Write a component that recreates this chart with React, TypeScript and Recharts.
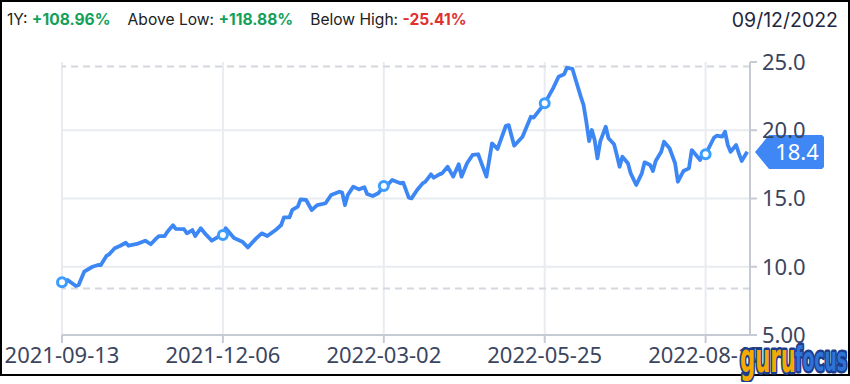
import { LineChart, Line, XAxis, YAxis, CartesianGrid, ReferenceLine } from "recharts";

// trading-day index since 2021-09-13 and closing price
const days = [
  0, 2, 5, 6, 8, 11, 13, 14, 16, 17, 19, 21, 23, 24, 27, 30, 32, 34, 35, 37, 38, 40, 41, 44, 45, 47, 48, 50,
  52, 54, 56, 58, 59, 62, 65, 67, 70, 72, 74, 77, 79, 80, 82, 83, 85, 86, 88, 90, 92, 94, 95, 97, 100, 101,
  102, 103, 105, 107, 109, 110, 112, 114, 116, 117, 119, 122, 123, 125, 126, 128, 130, 131, 133, 134, 136,
  137, 139, 141, 143, 144, 146, 148, 150, 153, 155, 157, 160, 161, 163, 166, 169, 170, 174, 177, 179, 181,
  182, 184, 185, 187, 188, 189, 190, 191, 192, 193, 194, 196, 197, 199, 200, 201, 202, 204, 205, 207, 209,
  210, 212, 213, 214, 216, 217, 219, 221, 222, 224, 226, 227, 228, 230, 231, 232, 235, 236, 238, 239, 240,
  241, 243, 244, 245, 247,
];
const prices = [
  8.86, 9.03, 8.59, 8.66, 9.64, 10.0, 10.13, 10.13, 10.79, 10.91, 11.35, 11.54, 11.76, 11.54, 11.67, 11.91,
  11.65, 12.08, 12.25, 12.25, 12.57, 13.04, 12.77, 12.75, 12.45, 12.69, 12.25, 12.82, 12.33, 11.91, 12.16,
  12.33, 12.82, 12.1, 11.84, 11.42, 12.08, 12.45, 12.25, 12.69, 13.06, 13.62, 13.62, 14.16, 14.4, 14.94,
  14.89, 14.16, 14.52, 14.6, 14.65, 15.26, 15.5, 15.43, 14.52, 15.26, 15.87, 15.67, 15.82, 15.33, 15.18,
  15.38, 15.92, 15.92, 16.36, 16.11, 16.16, 15.06, 15.01, 15.62, 16.11, 16.23, 16.77, 16.52, 16.77, 16.84,
  17.33, 16.6, 17.51, 16.6, 17.58, 18.19, 18.24, 16.6, 19.04, 18.63, 20.33, 20.38, 18.87, 19.53, 20.99,
  20.92, 21.97, 23.07, 23.92, 24.1, 24.58, 24.49, 23.81, 22.46, 21.85, 20.63, 19.21, 20.02, 19.29, 17.94,
  19.16, 20.26, 19.41, 18.97, 18.19, 17.33, 18.06, 17.58, 16.84, 15.99, 16.84, 17.65, 17.45, 17.01, 17.75,
  18.43, 19.16, 18.68, 17.58, 16.23, 17.01, 17.21, 18.55, 18.31, 17.82, 18.31, 18.24, 19.45, 19.6, 19.53,
  19.89, 18.92, 18.43, 18.92, 18.31, 17.75, 18.43,
];

const tickDays = [0, 58, 116, 174, 232];
const tickLabels = ["2021-09-13", "2021-12-06", "2022-03-02", "2022-05-25", "2022-08-17"];
const priceTicks = [5, 10, 15, 20, 25];

const lastPrice = 18.4;
const yearHigh = 24.67;
const yearLow = 8.41;

const data = days.map((d, i) => ({ day: d, price: prices[i] }));

const axisFont = { fontFamily: "'Noto Sans', sans-serif", fontSize: 22, fill: "#3b4560" };

function Marker(props: any) {
  const { cx, cy, payload } = props;
  if (!tickDays.includes(payload.day)) return <g key={"m" + payload.day} />;
  return (
    <circle key={"m" + payload.day} cx={cx} cy={cy} r={4.5} fill="#fff" stroke="#3a9dff" strokeWidth={3} />
  );
}

function PriceTag(props: any) {
  const { viewBox } = props;
  const x = viewBox.x + viewBox.width + 5;
  const y = viewBox.y;
  const pts = `${x},${y} ${x + 14},${y - 17} ${x + 67},${y - 17} ${x + 69},${y - 15} ${x + 69},${y + 15} ${x + 67},${y + 17} ${x + 14},${y + 17}`;
  return (
    <g>
      <polygon points={pts} fill="#3f87f5" />
      <text x={x + 42} y={y + 8} textAnchor="middle" fill="#fff" style={{ fontFamily: "'Noto Sans', sans-serif", fontSize: 22 }}>
        {lastPrice}
      </text>
    </g>
  );
}

function App() {
  return (
    <div style={styles.page}>
      <div style={styles.frame} />
      <div style={styles.header}>
        <span>1Y: </span>
        <b style={styles.up}>+108.96%</b>
        <span style={{ marginLeft: 17 }}>Above Low: </span>
        <b style={styles.up}>+118.88%</b>
        <span style={{ marginLeft: 17 }}>Below High: </span>
        <b style={styles.down}>-25.41%</b>
      </div>
      <div style={styles.date}>09/12/2022</div>
      <LineChart
        width={850}
        height={384}
        data={data}
        margin={{ top: 62, right: 12, bottom: 9, left: 62 }}
        style={{ position: "absolute", left: 0, top: 0 }}
      >
        <CartesianGrid stroke="#e8ebf0" strokeWidth={2} horizontalValues={[10, 15, 20]} />
        <XAxis
          dataKey="day"
          type="number"
          domain={[0, 248]}
          ticks={tickDays}
          tickFormatter={(v: number) => tickLabels[tickDays.indexOf(v)]}
          height={40}
          tickSize={8}
          tickMargin={4}
          axisLine={{ stroke: "#c6cad3", strokeWidth: 2 }}
          tickLine={{ stroke: "#c6cad3", strokeWidth: 2 }}
          tick={axisFont}
          interval={0}
        />
        <YAxis
          orientation="right"
          domain={[5, 25]}
          ticks={priceTicks}
          tickFormatter={(v: number) => v.toPrecision(3)}
          width={88}
          tickSize={7}
          tickMargin={5}
          axisLine={{ stroke: "#c6cad3", strokeWidth: 2 }}
          tickLine={{ stroke: "#c6cad3", strokeWidth: 2 }}
          tick={axisFont}
        />
        <ReferenceLine y={yearHigh} stroke="#d3d7de" strokeWidth={2} strokeDasharray="7 5" />
        <ReferenceLine y={yearLow} stroke="#d3d7de" strokeWidth={2} strokeDasharray="7 5" />
        <Line
          type="linear"
          dataKey="price"
          stroke="#3d87f5"
          strokeWidth={3.8}
          strokeLinejoin="round"
          dot={Marker}
          activeDot={false}
          isAnimationActive={false}
        />
        <ReferenceLine y={lastPrice} stroke="none" ifOverflow="visible" label={PriceTag} />
      </LineChart>
      <svg width={114} height={44} style={{ position: "absolute", left: 736, top: 338 }}>
        <text
          x={4}
          y={34}
          textLength={56}
          lengthAdjust="spacingAndGlyphs"
          fill="#f5aa00"
          stroke="#1d3d8f"
          strokeWidth={5}
          strokeLinejoin="round"
          paintOrder="stroke"
          style={{ fontFamily: "'DejaVu Sans Condensed', sans-serif", fontWeight: 700, fontSize: 40 }}
        >
          guru
        </text>
        <text
          x={59}
          y={33}
          textLength={52}
          lengthAdjust="spacingAndGlyphs"
          fill="#2f73d6"
          stroke="#1d3d8f"
          strokeWidth={5}
          strokeLinejoin="round"
          paintOrder="stroke"
          style={{ fontFamily: "'DejaVu Sans Condensed', sans-serif", fontWeight: 700, fontSize: 34 }}
        >
          focus
        </text>
      </svg>
    </div>
  );
}

const styles: Record<string, React.CSSProperties> = {
  page: { position: "absolute", left: 0, top: 0, width: 850, height: 384, background: "#fff", overflow: "hidden" },
  frame: {
    position: "absolute",
    left: 0,
    top: 0,
    width: 850,
    height: 376,
    border: "2px solid #000",
    boxSizing: "border-box",
  },
  header: {
    position: "absolute",
    left: 7,
    top: 10,
    fontFamily: "Inter, sans-serif",
    fontSize: 15.6,
    color: "#222",
    whiteSpace: "nowrap",
  },
  up: { color: "#15a05a", fontWeight: 700 },
  down: { color: "#e0302f", fontWeight: 700 },
  date: {
    position: "absolute",
    right: 12,
    top: 8,
    fontFamily: "Inter, sans-serif",
    fontSize: 19.5,
    color: "#1f2740",
  },
};

export default App;
